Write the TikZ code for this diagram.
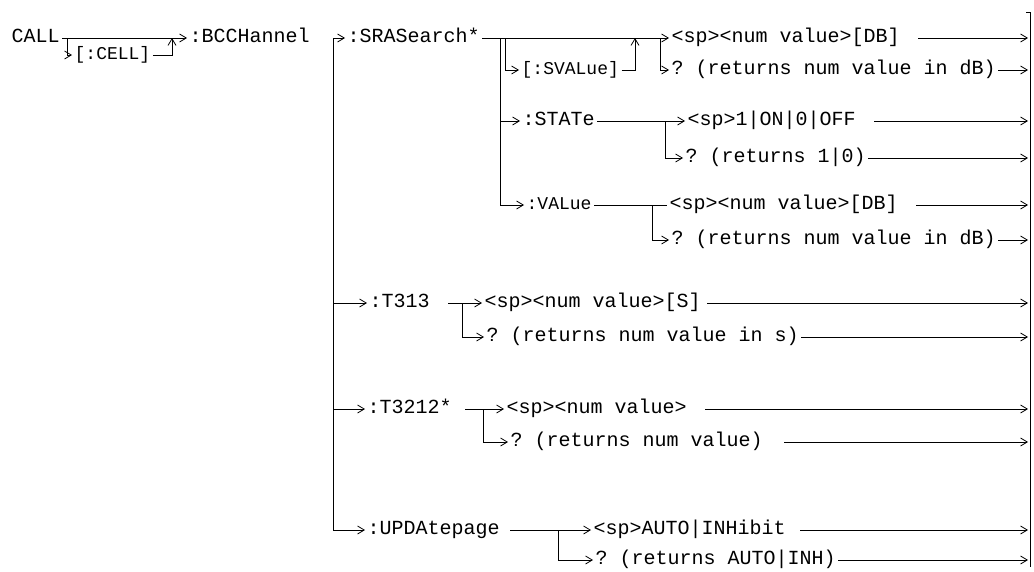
\documentclass[tikz,border=0pt]{standalone}
\usepackage{fontspec}
\setmonofont{Liberation Mono}
\usetikzlibrary{arrows.meta,positioning,calc}

\tikzset{
  cmd/.style={font=\ttfamily\fontsize{15}{18}\selectfont, inner sep=0pt, outer xsep=2pt,
    text height=6pt, text depth=0pt, anchor=west},
  narrow/.style={cmd, font=\ttfamily\fontsize{13.5}{16}\selectfont},
}

\begin{document}
\begin{tikzpicture}[x=0.75pt,y=-0.75pt,line width=0.6pt,
    >={Straight Barb[length=5pt,width=6pt]}]
    \useasboundingbox (0,0) rectangle (1034,571);

    % branch points and the right rail
    \coordinate (rail) at (1028,0);
    \coordinate (trunk) at (333,0);
    \coordinate (cellfork) at (67,0);
    \coordinate (celljoin) at (172,0);
    \coordinate (srafork) at (500,0);
    \coordinate (svfork) at (505,0);
    \coordinate (svjoin) at (635,0);
    \coordinate (srqfork) at (660,0);
    \coordinate (stfork) at (665,0);
    \coordinate (vafork) at (652,0);
    \coordinate (tafork) at (462,0);
    \coordinate (tbfork) at (483,0);
    \coordinate (updfork) at (558,0);
    \coordinate (bartick) at (1026,12);
    \coordinate (bartop) at (1030,12);
    \coordinate (barbot) at (1030,567);

    % Top: CALL[:CELL]:BCCHannel
    \node[cmd] (call) at (9,38) {CALL};
    \node[narrow] (cell) at (72,55) {[:CELL]};
    \node[cmd] (bcch) at (187,38) {:BCCHannel};
    \draw[->] (call) -- (bcch);
    \draw[->] (call.east -| cellfork) |- (cell.west);
    \draw[->] (cell.east) -| (celljoin |- call.east);

    % :SRASearch* subtree
    \node[cmd] (sra) at (345,38) {:SRASearch*};
    \node[narrow] (svalue) at (519,70) {[:SVALue]};
    \node[cmd] (srasp) at (669,38) {<sp><num value>[DB]\kern12pt};
    \node[cmd] (sraq) at (669,70) {? (returns num value in dB)};
    \node[cmd] (state) at (520,121) {:STATe};
    \node[cmd] (stateon) at (685,121) {<sp>1|ON|0|OFF\kern12pt};
    \node[cmd] (stateq) at (683,158) {? (returns 1|0)};
    \node[narrow] (value) at (524,205) {:VALue};
    \node[cmd] (valsp) at (667,205) {<sp><num value>[DB]\kern12pt};
    \node[cmd] (valq) at (669,240) {? (returns num value in dB)};
    \draw[->] (sra) -- (srasp);
    \draw[->] (sra.east -| svfork) |- (svalue.west);
    \draw[->] (svalue.east) -| (svjoin |- sra.east);
    \draw[->] (sra.east -| srqfork) |- (sraq.west);
    \draw[->] (sra.east -| srafork) |- (value.west);
    \draw[->] (srafork |- state.west) -- (state.west);
    \draw[->] (state) -- (stateon);
    \draw[->] (state.east -| stfork) |- (stateq.west);
    \draw (value) -- (valsp);
    \draw[->] (value.east -| vafork) |- (valq.west);

    % :T313, :T3212*, :UPDAtepage
    \node[cmd] (t313) at (367,303) {:T313\kern12pt};
    \node[cmd] (t313sp) at (482,303) {<sp><num value>[S]\kern3pt};
    \node[cmd] (t313q) at (484,337) {? (returns num value in s)};
    \node[cmd] (t3212) at (365,409) {:T3212*\kern8pt};
    \node[cmd] (t3212sp) at (504,409) {<sp><num value>\kern12pt};
    \node[cmd] (t3212q) at (508,442) {? (returns num value)\kern14pt};
    \node[cmd] (upd) at (365,530) {:UPDAtepage\kern6pt};
    \node[cmd] (updsp) at (591,530) {<sp>AUTO|INHibit\kern9pt};
    \node[cmd] (updq) at (593,560) {? (returns AUTO|INH)};
    \draw[->] (t313) -- (t313sp);
    \draw[->] (t313.east -| tafork) |- (t313q.west);
    \draw[->] (t3212) -- (t3212sp);
    \draw[->] (t3212.east -| tbfork) |- (t3212q.west);
    \draw[->] (upd) -- (updsp);
    \draw[->] (upd.east -| updfork) |- (updq.west);

    % trunk from :BCCHannel
    \draw[->] (trunk |- upd.west) |- (sra.west);
    \foreach \n in {t313,t3212,upd}
      \draw[->] (trunk |- \n.west) -- (\n.west);

    % ends on the right rail
    \foreach \n in {srasp,sraq,stateon,stateq,valsp,valq,t313sp,t313q,t3212sp,t3212q,updsp,updq}
      \draw[->] (\n.east) -- (\n.east -| rail);
    \draw (bartick) -- (bartop) -- (barbot);
\end{tikzpicture}
\end{document}
